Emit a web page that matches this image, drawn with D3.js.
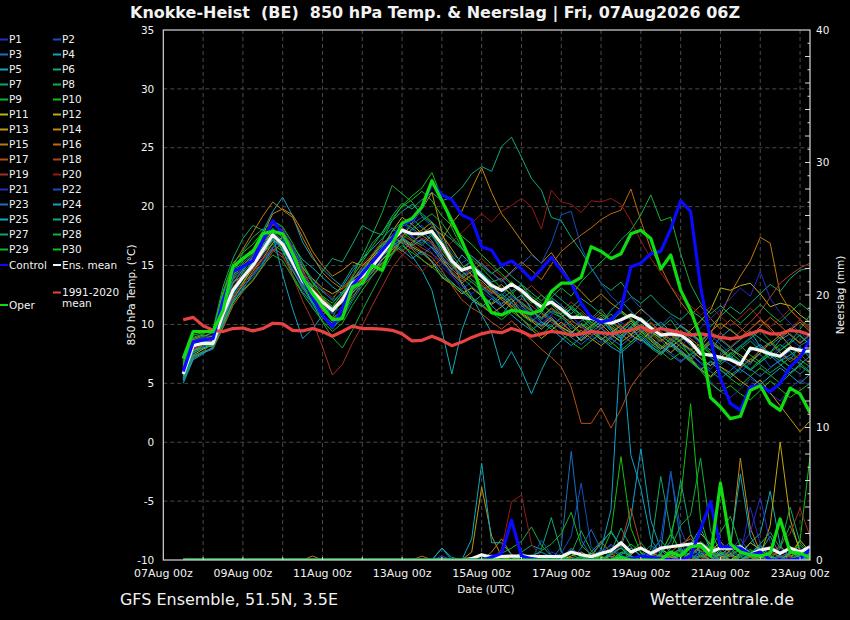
<!DOCTYPE html>
<html><head><meta charset="utf-8">
<script src="https://cdn.jsdelivr.net/npm/d3@7"></script>
<style>
body{margin:0;background:#000;}
svg{display:block;background:#000;}
text{font-family:"DejaVu Sans",sans-serif;fill:#f2f2f2;}
</style>
</head><body>
<svg id="chart" width="850" height="620"></svg>
<script>
// ---------------- DATA ----------------
const titleText = "Knokke-Heist  (BE)  850 hPa Temp. & Neerslag | Fri, 07Aug2026 06Z";
const footerLeft = "GFS Ensemble, 51.5N, 3.5E";
const footerRight = "Wetterzentrale.de";
const xTickLabels = ["07Aug 00z","09Aug 00z","11Aug 00z","13Aug 00z","15Aug 00z","17Aug 00z","19Aug 00z","21Aug 00z","23Aug 00z"];
const tempTicks = [35,30,25,20,15,10,5,0,-5,-10];
const precipTicks = [40,30,20,10,0];

// 850 hPa temperature, every 6 h from 07Aug 12z
const controlT = [6.0,8.5,8.7,8.8,12.0,14.5,14.9,15.4,17.1,18.8,17.7,15.8,13.9,12.3,10.8,9.8,
11.4,13.3,14.3,15.3,16.3,17.3,18.5,18.8,20.0,22.0,21.0,20.6,19.3,18.9,16.6,16.3,
15.0,15.4,14.7,13.8,14.7,15.7,14.6,13.5,11.8,10.6,10.2,10.4,11.3,14.9,15.2,16.0,
16.2,18.1,20.5,19.6,13.2,8.7,5.4,3.3,2.7,4.7,4.8,4.3,5.0,6.4,7.2,8.7];
const operT = [7.1,9.4,9.4,9.4,11.2,14.9,15.6,16.2,17.7,17.9,17.7,16.0,14.0,12.6,11.5,10.4,
10.5,13.2,13.5,15.0,14.6,16.8,18.6,19.0,20.0,22.2,20.5,18.8,17.1,15.2,12.6,11.0,
10.8,11.2,11.1,10.9,11.2,12.8,13.5,13.5,14.0,16.6,16.2,15.6,16.0,17.7,18.0,17.3,
14.7,15.9,12.9,11.2,8.9,3.8,3.0,2.0,2.2,4.4,4.8,3.3,2.7,4.6,4.1,2.5];
const meanT = [5.8,8.2,8.4,8.4,10.9,12.9,14.0,15.0,16.3,17.6,16.8,15.3,13.7,12.8,11.9,11.2,
12.1,13.5,14.1,14.9,16.0,17.1,18.0,17.7,17.7,17.9,16.8,15.4,14.6,14.9,14.1,13.3,
12.9,13.4,12.9,12.1,11.5,11.9,11.3,10.6,10.6,10.5,10.3,10.1,10.4,10.8,10.4,9.7,
9.1,9.2,9.1,8.5,7.5,7.4,7.2,7.0,6.6,8.0,7.8,7.5,7.3,8.0,7.8,7.7];
const climT = [10.4,10.6,9.9,9.5,9.4,9.65,9.7,9.45,9.65,10.1,10.05,9.5,9.45,9.65,9.4,9.0,
9.4,9.85,9.65,9.65,9.6,9.5,9.2,8.6,8.65,9.0,8.65,8.2,8.5,8.9,9.2,9.4,
9.3,9.65,9.4,9.0,9.2,9.4,9.3,9.1,9.2,9.4,9.3,9.2,9.4,9.5,9.8,9.4,
9.65,9.5,9.3,9.1,9.2,9.1,8.9,8.8,8.9,9.2,9.5,9.2,9.2,9.5,9.4,9.1];

const P1T = [5.5,7.6,8.0,8.3,10.2,12.5,13.8,14.6,15.8,17.0,16.5,14.8,12.9,11.5,10.6,9.8,
10.9,12.6,13.5,14.2,15.4,16.7,17.5,18.1,17.2,16.8,15.3,14.2,13.0,13.6,12.8,12.2,
11.5,12.3,11.8,10.6,9.9,10.8,10.1,9.4,9.0,8.6,9.2,8.7,9.5,10.1,9.2,8.3,
7.9,8.6,7.8,7.1,6.4,5.2,4.3,3.8,4.5,5.4,4.9,4.1,3.5,4.6,5.3,4.8];
const P2T = [6.1,8.0,8.6,8.2,11.3,13.4,14.6,15.5,16.9,18.2,17.3,15.0,13.2,12.0,11.4,10.9,
12.4,13.9,14.7,15.3,16.6,17.2,18.6,18.0,18.4,17.5,16.2,15.8,14.1,14.5,13.2,12.6,
13.0,12.1,11.4,10.8,11.2,10.5,9.8,10.7,9.9,9.1,8.4,9.0,10.2,9.6,8.8,8.1,
8.7,7.6,6.9,7.5,6.8,6.2,7.1,6.6,5.9,6.8,7.5,6.4,6.9,7.8,6.5,5.9];
const P3T = [5.9,7.3,7.6,7.9,9.8,11.9,13.1,14.2,15.1,16.4,16.0,15.2,14.1,12.6,12.3,11.5,
12.0,13.2,14.0,15.3,15.9,17.6,18.1,17.4,16.9,17.8,16.0,15.1,14.8,15.3,13.9,13.1,
12.4,13.5,12.6,11.3,10.4,11.1,10.9,9.6,10.3,10.8,9.7,9.1,8.6,9.8,10.5,9.4,
8.9,9.6,8.4,7.7,7.2,6.5,7.4,8.1,7.2,6.6,7.9,8.5,7.6,7.0,8.2,8.7];
const P4T = [5.3,7.9,8.1,8.5,10.6,12.8,14.5,15.8,17.9,19.6,20.8,19.2,17.0,15.6,14.7,13.9,
13.2,14.5,15.6,16.4,17.3,18.2,17.4,16.8,17.9,17.1,15.8,14.6,15.9,15.1,14.4,13.6,
13.9,12.8,13.4,12.1,11.0,12.3,11.6,10.9,11.8,10.6,10.1,11.2,12.0,11.1,10.3,9.5,
10.2,9.4,8.6,9.3,8.5,7.8,8.9,9.6,8.8,9.4,8.1,7.6,8.7,9.2,8.4,9.1];
const P5T = [5.0,7.0,7.5,8.1,10.0,11.8,13.0,14.3,15.2,16.5,17.4,16.7,15.5,14.8,14.0,13.2,
12.6,13.7,14.9,15.6,16.8,17.5,16.9,15.8,14.6,12.9,9.5,5.8,9.5,11.8,12.5,11.6,
10.8,11.9,12.5,11.3,10.2,9.8,10.6,11.4,10.8,9.9,10.5,9.4,8.8,9.6,10.4,9.7,
9.1,8.4,9.0,8.2,7.6,8.4,7.9,7.2,6.8,7.7,8.3,7.5,6.9,7.4,8.0,7.2];
const P6T = [6.3,8.4,8.3,8.6,11.5,13.9,15.2,16.0,17.3,18.5,17.9,16.6,14.9,13.5,12.8,12.1,
13.4,14.8,15.5,16.9,17.8,19.2,20.3,19.8,20.6,21.2,20.5,20.8,21.6,22.8,23.4,23.0,
25.1,25.9,24.2,22.4,21.4,19.1,18.8,17.4,16.2,14.8,13.5,12.9,13.6,12.4,11.8,12.5,
11.6,10.9,10.4,11.2,10.6,9.8,10.7,11.5,10.9,11.8,12.6,13.4,12.8,13.9,14.6,14.8];
const P7T = [6.8,8.9,9.2,9.6,13.2,15.6,17.3,18.4,18.0,17.5,16.3,14.2,12.7,11.9,10.8,10.1,
11.3,12.8,14.4,15.9,16.7,17.4,18.3,19.0,18.2,17.6,16.4,15.1,14.0,13.2,12.5,11.8,
12.6,11.9,10.8,10.2,11.0,10.4,9.8,9.2,10.1,9.6,8.9,8.3,9.1,9.8,8.7,8.0,
7.4,8.2,7.5,6.8,6.1,6.9,6.4,5.7,6.3,7.1,6.6,5.9,6.5,7.2,6.7,6.0];
const P8T = [6.5,8.6,8.8,9.0,12.1,14.3,15.4,16.2,17.0,17.9,17.1,15.9,14.0,12.5,11.3,10.6,
12.2,14.1,15.8,17.6,19.5,21.8,21.1,20.4,19.2,18.6,17.1,15.9,14.8,15.4,14.1,13.0,
12.2,12.8,11.6,10.9,11.6,12.2,11.1,10.4,9.7,10.5,11.3,10.2,9.6,10.3,9.5,8.9,
9.7,10.4,9.2,8.5,7.9,8.7,8.0,7.3,8.1,8.8,9.5,8.6,7.8,8.4,9.1,8.3];
const P9T = [6.0,8.1,8.5,8.2,10.5,12.4,13.6,14.9,16.5,17.4,16.9,15.6,13.9,12.7,11.6,11.0,
11.9,13.3,14.6,15.9,17.1,18.8,20.1,20.9,21.6,22.9,20.7,18.2,16.5,15.6,14.8,13.9,
13.1,12.6,13.3,12.4,11.8,11.0,10.6,11.3,10.5,9.7,10.2,10.9,9.8,9.2,10.0,9.3,
8.6,9.2,8.5,7.8,8.4,7.6,6.9,7.5,8.2,7.4,6.8,7.6,8.3,7.7,7.0,6.4];
const P10T = [6.2,7.7,8.2,8.9,11.0,13.1,14.4,15.3,16.1,16.8,16.2,15.4,14.2,13.3,12.4,11.8,
12.8,13.5,14.2,15.1,16.3,17.3,17.9,17.2,16.7,17.6,16.4,15.2,14.1,13.6,12.9,13.4,
12.8,13.6,12.9,12.0,11.3,11.9,11.2,10.5,11.0,10.2,9.6,10.4,11.1,10.5,9.8,9.2,
9.8,9.1,8.5,7.2,6.1,5.0,4.3,4.8,4.1,3.6,4.4,5.2,4.5,3.8,4.4,5.0];
const P11T = [5.6,7.4,7.9,8.3,10.1,12.0,13.5,14.8,16.0,17.2,16.6,15.0,13.6,12.3,11.2,10.5,
11.2,12.7,13.6,14.4,15.5,16.3,17.2,16.6,16.1,15.3,14.0,13.4,12.6,13.1,12.4,11.7,
12.3,11.6,10.9,10.3,9.6,10.4,9.8,9.3,10.0,9.4,8.7,9.3,9.9,9.1,8.6,9.4,
8.8,8.1,8.7,9.5,10.3,11.2,13.1,12.9,13.3,13.5,12.6,11.5,11.8,11.6,10.8,10.2];
const P12T = [6.4,8.3,8.7,8.4,11.8,13.6,14.1,15.2,16.7,18.0,17.6,16.1,14.8,13.9,13.1,12.6,
13.1,13.9,14.4,15.7,16.4,17.9,19.1,18.5,17.7,18.3,17.6,16.4,15.1,14.2,13.7,12.9,
12.1,11.4,10.5,9.6,8.8,9.5,10.2,9.4,8.6,9.3,10.0,9.2,8.5,9.1,9.8,8.9,
8.2,7.6,8.4,7.9,7.1,6.5,7.2,7.9,7.4,6.8,7.6,8.4,9.1,8.2,7.5,7.9];
const P13T = [5.7,7.8,8.0,8.2,10.4,12.2,13.3,14.5,15.6,16.9,17.4,16.2,14.6,13.0,12.1,11.3,
11.8,13.0,13.8,14.6,15.2,16.0,17.4,18.6,19.8,21.2,17.8,15.6,13.4,12.1,11.6,10.9,
11.5,12.2,11.0,10.4,9.9,10.6,9.7,8.9,9.5,8.8,8.2,8.9,9.6,10.3,9.4,8.6,
7.9,8.5,7.7,7.0,6.2,5.6,6.4,5.9,5.2,4.6,5.3,4.2,3.1,2.0,0.9,1.8];
const P14T = [6.6,8.8,9.1,8.9,12.4,14.2,15.0,15.9,17.6,19.4,19.8,19.3,17.9,16.2,15.0,14.1,
14.6,15.3,15.0,15.8,16.9,17.5,18.2,17.6,18.0,18.7,17.2,18.6,19.6,21.5,23.3,21.2,
19.4,18.3,17.1,16.0,15.2,16.1,14.9,13.6,12.8,11.9,12.6,11.8,11.2,10.5,11.3,10.6,
9.8,9.2,9.9,9.3,8.6,9.4,10.1,9.5,8.9,9.6,10.4,9.7,8.8,9.5,10.2,9.4];
const P15T = [6.0,8.2,8.9,9.4,12.6,15.0,16.4,17.8,19.2,20.4,19.7,19.1,17.4,15.8,14.4,13.6,
13.0,13.8,14.5,15.2,16.1,16.8,16.2,17.0,17.6,16.9,15.6,14.3,13.5,14.2,13.3,12.7,
13.4,12.5,11.8,11.1,10.6,11.4,10.8,10.1,9.3,9.9,10.6,9.8,9.2,8.5,9.3,10.1,
9.4,8.7,9.5,8.8,8.1,9.2,10.8,12.6,14.1,15.4,17.4,16.9,12.6,11.2,10.4,9.6];
const P16T = [5.4,7.2,7.7,8.0,9.7,11.6,12.8,13.7,14.9,16.2,16.9,15.8,14.3,13.1,12.2,11.4,
12.3,13.1,13.9,14.7,15.8,16.5,17.0,16.4,15.5,14.8,15.6,14.7,13.9,14.5,15.2,14.4,
13.7,14.5,15.3,14.6,13.8,15.1,16.2,16.9,17.6,18.2,18.9,19.4,19.7,21.5,18.8,16.4,
14.9,13.2,11.9,10.8,11.6,10.5,9.6,10.4,9.7,9.0,9.8,10.6,9.9,9.1,8.4,9.2];
const P17T = [6.3,8.5,8.4,8.7,11.7,13.8,14.9,15.6,17.1,18.5,18.0,16.4,14.7,12.8,11.2,10.4,
11.1,12.4,13.3,14.1,15.0,16.1,17.3,16.8,16.2,15.7,14.6,13.3,12.1,11.4,10.9,10.2,
9.6,10.3,9.5,8.7,7.9,7.2,6.4,4.7,1.6,1.6,2.9,1.2,2.8,4.7,5.9,6.8,
7.6,8.4,7.7,6.9,7.8,8.6,7.9,7.1,6.3,7.0,7.8,8.5,7.6,6.8,7.5,6.6];
const P18T = [5.9,7.9,8.3,8.6,10.8,12.7,13.9,14.7,15.6,16.3,15.7,14.5,13.2,12.4,11.7,11.1,
12.4,13.8,14.9,15.6,16.2,16.8,17.6,17.1,16.5,16.0,15.3,14.5,13.7,14.2,13.5,12.8,
12.1,11.5,12.2,11.6,10.9,10.2,9.6,10.3,9.8,9.1,9.7,10.4,9.6,8.9,9.5,10.2,
9.3,8.6,9.2,8.5,7.8,8.5,9.3,8.6,9.4,10.2,11.1,12.3,13.5,14.2,14.8,15.2];
const P19T = [6.1,8.0,8.2,8.5,10.5,12.3,13.4,14.3,15.5,16.6,15.9,14.1,12.0,10.3,8.1,5.7,
6.6,8.4,9.9,11.6,13.2,14.8,15.9,16.6,17.3,17.0,16.1,15.0,14.2,14.9,15.6,14.8,
14.1,13.4,12.6,13.3,12.5,11.8,11.1,11.9,11.2,10.4,11.0,10.3,9.7,10.4,9.8,9.1,
8.5,9.2,8.6,7.9,8.7,9.4,8.8,8.1,8.8,9.6,10.3,9.5,8.8,9.6,10.4,9.8];
const P20T = [5.8,8.1,8.6,8.8,11.1,13.2,14.3,15.1,16.4,17.3,16.8,15.6,14.4,13.6,12.9,12.3,
13.0,14.2,15.1,16.0,17.1,16.6,16.0,15.2,14.5,15.3,16.2,17.0,17.8,18.6,19.4,18.7,
19.6,20.1,20.7,20.0,18.1,21.4,20.4,20.2,19.5,20.5,20.4,20.7,20.2,18.8,17.1,15.6,
14.4,13.2,12.3,11.6,10.8,11.5,10.7,9.9,10.6,11.4,10.5,9.8,10.5,11.3,10.4,9.6];
const P21T = [6.2,8.7,8.9,9.1,11.9,13.7,14.8,15.9,17.4,18.7,18.2,16.6,14.5,12.9,11.8,10.9,
11.5,12.9,13.7,14.8,15.7,16.9,18.0,17.5,16.8,16.1,14.9,14.1,13.3,12.6,13.2,12.5,
11.8,12.4,11.7,10.9,10.1,10.8,11.5,10.7,9.9,9.3,9.9,10.6,9.8,9.0,8.3,9.1,
9.8,8.9,8.2,8.9,9.7,10.5,11.3,12.2,13.1,12.4,14.5,12.2,11.0,10.1,9.3,8.6];
const P22T = [5.5,7.5,8.1,8.4,10.3,12.1,13.2,14.0,15.3,16.6,17.1,16.3,15.1,13.8,12.9,12.0,
12.7,13.4,14.3,15.1,16.4,17.2,17.8,18.5,19.1,18.4,17.3,16.1,15.2,15.8,15.1,14.4,
13.6,14.4,15.1,15.9,15.2,16.9,19.3,19.6,16.6,14.8,13.5,12.4,11.6,12.3,11.4,10.6,
9.9,10.7,9.8,9.1,8.4,9.1,8.3,7.5,8.2,8.9,8.0,7.3,8.0,8.8,8.1,7.4];
const P23T = [6.0,8.3,8.5,8.7,11.0,13.0,14.2,15.2,16.6,17.8,17.0,15.4,13.3,11.7,10.6,9.7,
10.5,12.0,13.3,14.5,15.6,16.4,17.1,16.5,15.9,16.6,15.7,14.9,14.1,14.7,13.9,13.1,
12.4,11.8,11.2,10.5,9.8,10.4,9.6,8.9,8.3,9.0,9.7,8.8,8.2,8.9,9.6,8.8,
8.1,7.4,6.8,7.5,6.7,6.0,5.4,6.1,6.8,6.2,5.6,6.3,7.0,6.4,5.8,6.5];
const P24T = [5.2,7.1,7.6,8.0,10.2,12.6,14.0,15.3,16.8,17.6,14.2,11.3,8.8,9.6,10.8,11.5,
12.6,13.8,14.6,15.4,16.5,17.1,16.3,15.6,16.2,15.4,14.3,13.6,12.8,12.1,11.5,12.2,
11.6,10.8,10.1,9.5,10.2,9.6,8.9,8.2,8.9,9.6,8.8,8.1,7.6,8.3,9.0,8.2,
7.5,8.3,7.6,6.9,6.2,6.8,6.1,5.5,6.2,5.6,4.9,5.6,6.3,5.7,5.0,5.8];
const P25T = [5.6,7.6,8.0,8.3,10.7,12.9,14.1,15.0,16.1,17.3,16.4,15.1,13.7,12.8,11.9,11.4,
11.9,12.9,13.6,14.8,15.9,16.6,17.3,16.7,17.2,16.5,15.4,14.4,13.6,12.4,10.8,9.3,
6.3,7.7,6.1,4.1,6.1,7.8,8.6,9.4,8.7,9.5,10.3,9.6,8.9,9.7,8.8,8.1,
7.6,8.4,7.8,7.1,7.9,7.2,6.6,7.3,6.7,6.1,6.8,7.4,6.6,5.9,6.6,7.3];
const P26T = [6.4,8.2,8.4,8.8,11.4,13.5,14.7,15.6,16.3,17.1,16.7,15.3,13.9,13.2,14.5,15.6,
15.3,16.8,18.4,17.9,17.6,18.8,19.6,20.2,19.4,18.7,17.9,17.2,16.4,15.8,15.0,14.3,
14.9,14.1,13.4,12.7,12.0,12.8,12.1,11.4,12.2,11.6,10.9,10.3,11.0,10.4,9.7,10.5,
9.8,9.1,9.9,9.2,8.5,9.3,8.7,8.0,8.7,9.4,8.8,8.2,8.9,9.7,9.0,8.3];
const P27T = [5.4,7.3,7.7,8.5,11.2,14.0,16.2,17.4,18.1,17.8,16.2,14.6,13.1,11.9,10.7,9.6,
10.8,12.2,13.6,15.2,16.5,17.9,18.7,18.2,17.5,18.1,16.8,15.5,14.5,13.8,13.1,12.4,
11.7,12.5,11.9,11.2,10.5,11.3,10.6,9.9,9.2,9.8,10.5,9.7,9.0,9.8,10.6,9.9,
9.1,8.4,9.1,8.5,7.7,8.4,7.8,7.1,7.9,8.6,7.8,7.1,7.8,8.5,9.6,10.8];
const P28T = [6.7,8.7,9.0,9.3,12.5,14.6,15.7,16.4,17.2,18.1,17.4,15.7,13.5,11.8,10.2,8.9,
8.0,9.5,11.2,12.8,14.4,15.9,17.2,18.1,18.8,19.4,18.6,17.4,16.5,15.2,14.3,13.5,
12.9,13.6,12.8,12.1,11.4,12.3,13.1,12.4,13.6,14.5,15.3,16.1,17.2,18.0,19.3,21.0,
18.8,19.1,16.0,13.4,11.8,10.9,11.6,10.8,10.1,10.9,11.7,10.9,10.2,11.0,11.8,11.1];
const P29T = [5.8,7.7,8.3,8.1,10.1,11.9,12.9,13.8,15.0,15.9,15.4,14.0,12.6,11.4,10.3,9.4,
10.1,11.6,12.9,14.1,15.2,16.0,16.7,16.1,15.5,14.9,14.1,13.5,12.9,12.3,11.7,11.0,
10.4,11.1,10.5,9.8,9.1,9.9,9.2,8.5,7.9,8.6,9.3,8.5,7.8,8.5,9.2,8.4,
7.7,7.0,7.6,6.9,6.1,5.5,6.2,5.4,4.8,5.6,6.3,5.7,5.0,5.8,6.5,5.9];
const P30T = [6.9,9.1,9.3,9.5,12.8,15.2,16.1,16.8,17.9,18.8,18.3,16.9,15.2,13.6,12.3,11.5,
12.6,14.0,15.3,16.6,17.8,19.0,20.0,20.6,21.3,20.5,19.2,18.4,17.5,16.8,15.9,15.1,
14.3,13.5,12.7,11.8,12.5,11.7,10.9,11.6,10.8,10.1,10.8,10.0,9.3,10.1,9.4,8.7,
8.0,8.8,8.1,7.4,8.2,7.5,6.8,7.6,6.9,6.2,7.0,7.7,7.1,6.4,7.2,7.9];

// 6-hourly precipitation (mm)
const controlR = [0,0,0,0,0,0,0,0,0,0, 0,0,0,0,0,0,0,0,0,0, 0,0,0,0,0,0,
0,0,0,0,0,0.2,0.5,3.0,0.3,0.1, 0,0,0,0,0,0,0,0,0.2,0.1, 0.3,0.2,0.1,0,0,0.3,2.3,4.4,1.0,1.0, 0.9,0.4,0.6,0,0,0,0.1,0.8];
const operR = [0,0,0,0,0,0,0,0,0,0, 0,0,0,0,0,0,0,0,0,0, 0,0,0,0,0,0,
0,0,0,0,0,0,0,0,0,0, 0,0,0,0,0,0,0,0,0.2,0, 0,0,0,0.6,0.3,1.0,1.1,0.3,5.8,1.2, 0.6,0.4,0.3,0.5,3.1,0.6,0.5,0.2];
const meanR = [0,0,0,0,0,0,0,0,0,0, 0,0,0,0,0,0,0,0,0,0, 0,0,0,0,0,0,
0.05,0,0,0.1,0.4,0.2,0.25,0.3,0.3,0.25, 0.25,0.25,0.25,0.6,0.4,0.25,0.5,0.7,1.3,0.6, 0.9,0.5,0.9,1.0,1.1,1.2,1.2,0.6,0.9,0.9, 1.0,0.4,0.75,0.9,0.5,0.9,0.6,1.0];

const P1R = [0,0,0,0,0,0,0,0,0,0, 0,0,0,0,0,0,0,0,0,0, 0,0,0,0,0,0,
0,0,0,0,0,0,0.2,0.4,0,0, 0,0.6,0.3,0,0,0,0.5,1.2,0.4,0, 0,0,0.8,0.3,0,0,0.6,1.5,0.4,0, 0.3,4.0,1.2,0.2,0,0.5,0.9,0.3];
const P2R = [0,0,0,0,0,0,0,0,0,0, 0,0,0,0,0,0,0,0,0,0, 0,0,0,0,0,0,
0.3,0,0,0,0,0.4,0.2,0,0,0, 0,0,0.5,1.8,5.8,1.0,0.2,0,0,0.4, 0.9,0.3,0,0,0,0.4,0.2,0,0,0.7, 1.6,0.5,0,0,0.3,0,0.2,0];
const P3R = [0,0,0,0,0,0,0,0,0,0, 0,0,0,0,0,0,0,0,0,0, 0,0,0,0,0,0,
0,0,0,0,0,0,0,0.3,0.2,0, 0,0,1.0,8.2,1.5,0.3,0,0,0.2,0, 0.4,1.1,0.6,6.7,1.3,0,0,0.3,0,0, 0,0.6,0.2,0,0,0,0.4,0];
const P4R = [0,0,0,0,0,0,0,0,0,0, 0,0,0,0,0,0,0,0,0,0, 0,0,0,0,0,0,
0.9,0.2,0,0,0,0,0,0,0.3,0, 0,0,0,0,0,0.6,1.4,2.1,1.0,3.2, 8.4,3.0,0.8,0,0.4,0.9,0.3,0,0,0, 0,0.4,1.1,0.3,0,0,0.2,0];
const P5R = [0,0,0,0,0,0,0,0,0,0, 0,0,0,0,0,0,0,0,0,0, 0,0,0,0,0,0,
0,0,0,0,0.3,0,0,0,0.5,0.2, 0,0,0.3,0,0,0,0,0.4,0.9,0.2, 0,0,0.3,0,0,0.5,1.0,0.2,0,0, 0.4,1.3,2.0,5.2,1.1,0.2,0,0.3];
const P6R = [0,0,0,0,0,0,0,0,0,0, 0,0,0,0,0,0,0,0,0,0, 0,0,0,0,0,0,
0,0,0,0,0,0,0,0,0.6,1.1, 0.8,3.2,0.6,0,0.2,0,0.3,0.9,0.2,0, 0,0.6,1.5,0.5,0,0,0.3,0.8,0.2,0, 0,0,0.6,1.8,0.4,0,0,0.2];
const P7R = [0,0,0,0,0,0,0,0,0,0, 0,0,0,0,0,0,0,0,0,0, 0,0,0,0,0,0,
0,0,0,0,0,0,0,0,0,0.4, 0.2,0,0,0.9,0.3,0,0,0.6,2.4,1.0, 0.3,0.8,6.3,2.2,0.5,0,0.4,1.3,0.5,0, 0.2,0.7,0.3,0,0.9,2.6,0.8,0.2];
const P8R = [0,0,0,0,0,0,0,0,0,0, 0,0,0,0,0,0,0,0,0,0, 0,0,0,0,0,0,
0,0,0,0,0,0,0.5,0.9,1.4,2.5, 1.1,0.3,0,0.5,2.2,0.7,0,0,0.3,0, 0,0.4,0.9,0.3,0,0,0.7,0.2,0,0.5, 1.2,0.4,0,0,0,0.6,0.2,0];
const P9R = [0,0,0,0,0,0,0,0,0,0, 0,0,0,0,0,0,0,0,0,0, 0,0,0,0,0,0,
0,0,0,0,0,0,0,0,0,0.3, 0.7,1.2,2.0,3.6,1.1,0.4,0,0,0.6,0.3, 0,0,0.5,1.9,0.8,0,0.2,0.6,0.3,0, 0,0.3,0.8,0.2,0,0,0.4,0.1];
const P10R = [0,0,0,0,0,0,0,0,0,0, 0,0,0,0,0,0,0,0,0,0, 0,0,0,0,0,0,
0,0,0,0,0,0,0,0,0,0, 0,0,0.2,0.5,0,0,0.4,2.1,7.8,2.4, 0.5,0,0,0.3,0.7,0,0,0,0.4,0.9, 0.2,0,0,0.5,0.3,0,1.5,7.8];
const P11R = [0,0,0,0,0,0,0,0,0,0, 0,0,0,0,0,0,0,0,0,0, 0,0,0,0,0,0,
0,0,0,0,0,0,0,0,0,0, 0,0,0,0.3,0.6,0.2,0,0,0,0.4, 1.0,0.5,0,0,0,0.6,2.0,1.2,0.3,0, 0.5,1.3,0.8,0.2,0,0.4,1.5,0.6];
const P12R = [0,0,0,0,0,0,0,0,0,0, 0,0,0,0,0,0,0,0,0,0, 0,0,0,0,0,0,
0,0,0,0,0.4,0.2,0,0,0,0, 0,0.3,0,0,0,0.5,0.2,0,0,0, 0,0.3,0.8,0.4,0,0,0,0.6,1.4,0.5, 0,0,0.4,2.6,8.9,3.1,0.6,0.2];
const P13R = [0,0,0,0,0,0,0,0,0,0, 0,0,0,0,0,0,0,0,0,0, 0,0,0,0,0,0,
0,0,0,0.6,5.5,1.8,0.3,0,0,0, 0,0,0,0,0,0,0,0.3,0,0, 0,0,0.4,0.2,0,0,0,0,0.5,0.3, 0,0,0.2,0,0,0,0.3,0.1];
const P14R = [0,0,0,0,0,0,0,0,0,0, 0,0,0,0,0,0,0,0,0,0, 0,0,0,0,0,0,
0,0,0,0,0,0,0,0,0,0, 0,0,0,0.2,0,0,0,0,0,0, 0,0.5,0.3,0,0,0.4,1.0,0.5,0,0.8, 7.7,2.4,0.6,0,0,0.3,0.5,0.2];
const P15R = [0,0,0,0,0,0,0,0,0,0, 0,0,0,0.3,0,0,0,0,0,0, 0,0,0,0,0,0,
0,0,0,0,0,0.6,1.6,0.4,0,0, 0,0,0,0,0,0,0,0,0,0, 0,0,0,0.3,0.9,1.9,0.6,0,0,0.4, 0.9,0.3,0,0,0,0,0.2,0.4];
const P16R = [0,0,0,0,0,0,0,0,0,0, 0,0,0,0,0,0,0,0,0,0, 0,0,0,0,0.3,0,
0,0,0,0,0,0,0,0,0,0, 0,0,0,0,0,0.2,1.4,0.5,0,0, 0,0,0,0.6,1.2,1.6,0.9,0.3,0,0, 0,0.2,0,0.5,1.0,0.3,0,0];
const P17R = [0,0,0,0,0,0,0,0,0,0, 0,0,0,0,0,0,0,0,0,0, 0,0,0,0,0,0,
0,0,0,0,0,0,0,0.2,0,0, 0,0,0,0,0,0,0,0,0,0, 0,0,0,0,0,0.4,1.1,0.6,0,0, 0,0,0.3,0.7,0.2,0,0,0];
const P18R = [0,0,0,0,0,0,0,0,0,0, 0,0,0,0,0,0,0,0,0,0, 0,0,0,0,0,0,
0,0,0,0,0,0,0,0,0,0, 0,0,0,0,0,0,0,0,1.2,3.9, 1.0,0.2,0,0,0,0,0,0.5,0.9,0.3, 0,0,0,0.3,0.6,0.2,0,0];
const P19R = [0,0,0,0,0,0,0,0,0,0, 0,0,0,0,0,0,0,0,0,0, 0,0,0,0,0,0,
0,0,0,0,0,0,0,0,0,0, 0,0,0,0,0,0,0,0,0,0, 0,0,0,0,0,0,0,0.3,0.2,0, 0,0,0,0.4,1.2,2.0,3.9,1.8];
const P20R = [0,0,0,0,0,0,0,0,0,0, 0,0,0,0,0,0,0,0,0,0, 0,0,0,0,0,0,
0,0,0,0,0,0,0.8,4.4,4.9,1.2, 0.2,0,0,0,0,0,0,0,0,0, 0,0,0,0,0,0,0.2,0,0,0, 0,0,0,0,0,0,0.4,0.2];
const P21R = [0,0,0,0,0,0,0,0,0,0, 0,0,0,0,0,0,0,0,0,0, 0,0,0,0,0,0,
0,0,0,0,0,0,0,0,0,0, 0,0,0.3,0.8,0.4,0,0,0,0,0, 0.3,0.5,0,0,0,0.2,0.6,0.4,0,0.3, 0.9,2.1,4.7,1.3,0.4,0,0.3,0.9];
const P22R = [0,0,0,0,0,0,0,0,0,0, 0,0,0,0,0,0,0,0,0,0, 0,0,0,0,0,0,
0,0,0,0,0,0,0,0,0,0, 1.5,0.4,0,0,0,0,0.6,1.1,0.3,0, 0,0.4,1.6,6.7,2.3,0.5,0,0,0.3,0.6, 0.2,0,0,0.5,0.9,0.2,0,0.3];
const P23R = [0,0,0,0,0,0,0,0,0,0, 0,0,0,0,0,0,0,0,0,0, 0,0,0,0,0,0,
0,0,0,0,0,0,0,0,0,0, 0,0,0,0,0.9,2.3,0.8,0.2,0,0, 0,0,0,0.4,0.9,0.3,0,0,0.6,1.4, 0.5,0,0,0,0.2,0.6,0.3,0];
const P24R = [0,0,0,0,0,0,0,0,0,0, 0,0,0,0,0,0,0,0,0,0, 0,0,0,0,0,0,
0,0,0,0,0,0,0,0,0,0.3, 0.6,0.2,0,0,0,0,0.8,3.8,16.8,7.9, 5.4,1.6,0.4,0,0,0.3,0.9,0.5,0,0, 0,0.4,1.0,0.3,0,0,0,0.5];
const P25R = [0,0,0,0,0,0,0,0,0,0, 0,0,0,0,0,0,0,0,0,0, 0,0,0,0,0,0,
0.9,0,0,1.6,7.3,1.3,1.3,0.4,0,0, 0,0,0,0,0,0,0,0,0.4,0.9, 0.3,0,0,0,0.5,1.2,2.4,0.8,0.3,1.1, 6.5,1.8,0.4,0,0,0.6,0.2,0];
const P26R = [0,0,0,0,0,0,0,0,0,0, 0,0,0,0,0,0,0,0,0,0, 0,0,0,0,0,0,
0,0,0,0,0,0,0,0,0,0, 0,0,0,0,0,0.4,1.2,2.2,1.0,0.3, 0,0,0.5,1.4,6.0,2.0,0.4,0,0,0.3, 0.8,0.3,0,0,0.4,1.0,0.3,0];
const P27R = [0,0,0,0,0,0,0,0,0,0, 0,0,0,0,0,0,0,0,0,0, 0,0,0,0,0,0,
0,0,0,0,0,0,0,0,0,0, 0,0,0,0,0.3,0,0,0.5,0.9,0.2, 0,0,0,0.4,0.8,0.3,0,0,0.6,0.4, 0,0.5,1.2,2.1,0.9,4.0,1.3,0.5];
const P28R = [0,0,0,0,0,0,0,0,0,0, 0,0,0,0,0,0,0,0,0,0, 0,0,0,0,0,0,
0,0,0,0,0,0,0,0,0,0, 0,0,0.2,0,0,0,0,0,0,0.6, 1.3,0.4,0,0.9,2.6,3.4,7.7,2.2,0.6,0, 0,0.3,0.8,0.2,0,0,0.4,0.9];
const P29R = [0,0,0,0,0,0,0,0,0,0, 0,0,0,0,0,0,0,0,0,0, 0,0,0,0,0,0,
0,0,0,0,0,0,0,0,0,0, 0,0,0,0.6,0.3,0,0,0,0,0, 0,0,0,0,0,0.5,1.4,0.8,2.1,3.3, 1.0,0.3,0,0,0,0,0.6,0.3];
const P30R = [0,0,0,0,0,0,0,0,0,0, 0,0,0,0,0,0,0,0,0,0, 0,0,0,0,0,0,
0,0,0,0,0,0,0,0,0,0, 0,0,0,0,0,0,0.3,0,0.5,1.2, 0.6,0,0.4,2.0,4.6,11.8,3.1,0.7,0,0, 0.3,0.8,0.3,0,0,0.5,1.1,0.4];

const memberNames = ["P1","P2","P3","P4","P5","P6","P7","P8","P9","P10","P11","P12","P13","P14","P15",
"P16","P17","P18","P19","P20","P21","P22","P23","P24","P25","P26","P27","P28","P29","P30"];
const memberTemps = [P1T,P2T,P3T,P4T,P5T,P6T,P7T,P8T,P9T,P10T,P11T,P12T,P13T,P14T,P15T,
P16T,P17T,P18T,P19T,P20T,P21T,P22T,P23T,P24T,P25T,P26T,P27T,P28T,P29T,P30T];
const memberPrecip = [P1R,P2R,P3R,P4R,P5R,P6R,P7R,P8R,P9R,P10R,P11R,P12R,P13R,P14R,P15R,
P16R,P17R,P18R,P19R,P20R,P21R,P22R,P23R,P24R,P25R,P26R,P27R,P28R,P29R,P30R];

// ---------------- STYLE ----------------
const palette = ["#2a2ac0","#1050c0","#1870c0","#10a0c8","#10a8b8","#10a880","#10a860","#10b040","#10b820","#10c010",
"#b8b810","#c0a810","#c09810","#c08810","#c07810","#c06810","#b85010","#b04020","#a83020","#981818"];
const C_CONTROL = "#0a0aff", C_OPER = "#10dd10", C_MEAN = "#f4f4f4", C_CLIM = "#e84242";

const M = {left:163.3, right:810, top:30, bottom:560};
const svg = d3.select("#chart");

const x = d3.scaleUtc()
  .domain([new Date(Date.UTC(2026,7,7,0)), new Date(Date.UTC(2026,7,23,6))])
  .range([M.left, M.right]);
const yT = d3.scaleLinear().domain([-10,35]).range([M.bottom, M.top]);
const yP = d3.scaleLinear().domain([0,40]).range([M.bottom, M.top]);

const t0 = Date.UTC(2026,7,7,12);
const times = meanT.map((_,i) => new Date(t0 + i*6*3600*1000));

svg.append("defs").append("clipPath").attr("id","clip")
  .append("rect").attr("x",M.left).attr("y",M.top)
  .attr("width",M.right-M.left).attr("height",M.bottom-M.top);

// grid
const grid = svg.append("g");
const days = d3.utcDay.range(new Date(Date.UTC(2026,7,8)), new Date(Date.UTC(2026,7,23,1)));
grid.selectAll("line.v").data(days).join("line")
  .attr("x1",d=>x(d)).attr("x2",d=>x(d)).attr("y1",M.top).attr("y2",M.bottom)
  .attr("stroke","#4a4a4a").attr("stroke-dasharray","4,3").attr("stroke-width",1);
grid.selectAll("line.h").data(tempTicks.filter(v=>v>-10 && v<35)).join("line")
  .attr("x1",M.left).attr("x2",M.right).attr("y1",d=>yT(d)).attr("y2",d=>yT(d))
  .attr("stroke","#4a4a4a").attr("stroke-dasharray","4,3").attr("stroke-width",1);

// lines
const plot = svg.append("g").attr("clip-path","url(#clip)");
const lineT = d3.line().x((d,i)=>x(times[i])).y(d=>yT(d));
const lineP = d3.line().x((d,i)=>x(times[i])).y(d=>yP(d));

memberTemps.forEach((s,k)=>{
  plot.append("path").attr("d",lineT(s)).attr("fill","none")
    .attr("stroke",palette[k%20]).attr("stroke-width",1);
});
memberPrecip.forEach((s,k)=>{
  plot.append("path").attr("d",lineP(s)).attr("fill","none")
    .attr("stroke",palette[k%20]).attr("stroke-width",1);
});
plot.append("path").attr("d",lineT(meanT)).attr("fill","none").attr("stroke",C_MEAN).attr("stroke-width",3.2).attr("stroke-linejoin","round");
plot.append("path").attr("d",lineT(climT)).attr("fill","none").attr("stroke",C_CLIM).attr("stroke-width",3.2).attr("stroke-linejoin","round");
plot.append("path").attr("d",lineT(controlT)).attr("fill","none").attr("stroke",C_CONTROL).attr("stroke-width",3.2).attr("stroke-linejoin","round");
plot.append("path").attr("d",lineT(operT)).attr("fill","none").attr("stroke",C_OPER).attr("stroke-width",3.2).attr("stroke-linejoin","round");
plot.append("path").attr("d",lineP(meanR)).attr("fill","none").attr("stroke",C_MEAN).attr("stroke-width",3.2).attr("stroke-linejoin","round");
plot.append("path").attr("d",lineP(controlR)).attr("fill","none").attr("stroke",C_CONTROL).attr("stroke-width",3.2).attr("stroke-linejoin","round");
plot.append("path").attr("d",lineP(operR)).attr("fill","none").attr("stroke",C_OPER).attr("stroke-width",3.2).attr("stroke-linejoin","round");

// frame
svg.append("rect").attr("x",M.left).attr("y",M.top).attr("width",M.right-M.left).attr("height",M.bottom-M.top)
  .attr("fill","none").attr("stroke","#d8d8d8").attr("stroke-width",1.2);

// left axis labels
svg.selectAll("text.yl").data(tempTicks).join("text")
  .attr("x",M.left-9).attr("y",d=>yT(d)).attr("dy","0.35em")
  .attr("text-anchor","end").attr("font-size",10.5).text(d=>d);

// right axis ticks & labels
const mmTicks = d3.range(1,40);
svg.selectAll("line.rt").data(mmTicks).join("line")
  .attr("x1",d=>M.right-(d%2===0?5:2.5)).attr("x2",M.right)
  .attr("y1",d=>yP(d)).attr("y2",d=>yP(d)).attr("stroke","#d8d8d8").attr("stroke-width",1);
svg.selectAll("text.yr").data(precipTicks).join("text")
  .attr("x",M.right+6).attr("y",d=>yP(d)).attr("dy","0.35em")
  .attr("text-anchor","start").attr("font-size",10.5).text(d=>d);

// bottom ticks & labels
svg.selectAll("line.bt").data(days).join("line")
  .attr("x1",d=>x(d)).attr("x2",d=>x(d)).attr("y1",M.bottom).attr("y2",M.bottom-3)
  .attr("stroke","#d8d8d8").attr("stroke-width",1);
const labelDates = xTickLabels.map((_,k)=>new Date(Date.UTC(2026,7,7+2*k)));
svg.selectAll("text.xl").data(xTickLabels).join("text")
  .attr("x",(d,k)=>x(labelDates[k])).attr("y",577)
  .attr("text-anchor","middle").attr("font-size",11).text(d=>d);

// axis titles
svg.append("text").attr("transform","translate(135,295) rotate(-90)")
  .attr("text-anchor","middle").attr("font-size",10.5).text("850 hPa Temp. (°C)");
svg.append("text").attr("transform","translate(844,295) rotate(-90)")
  .attr("text-anchor","middle").attr("font-size",10.5).text("Neerslag (mm)");
svg.append("text").attr("x",486).attr("y",593).attr("text-anchor","middle")
  .attr("font-size",10.5).text("Date (UTC)");

// title and footer
svg.append("text").attr("x",130).attr("y",18).attr("font-size",15.5).attr("font-weight","bold")
  .attr("xml:space","preserve").style("white-space","pre")
  .attr("textLength",610).attr("lengthAdjust","spacingAndGlyphs").text(titleText);
svg.append("text").attr("x",120).attr("y",605).attr("font-size",16)
  .attr("textLength",218).attr("lengthAdjust","spacingAndGlyphs").text(footerLeft);
svg.append("text").attr("x",650).attr("y",605).attr("font-size",16)
  .attr("textLength",144).attr("lengthAdjust","spacingAndGlyphs").text(footerRight);

// legend
const leg = svg.append("g");
memberNames.forEach((n,k)=>{
  const col = k%2, row = Math.floor(k/2);
  const lx = col===0 ? 0 : 53, ly = 39.5 + row*15;
  leg.append("line").attr("x1",lx).attr("x2",lx+8).attr("y1",ly).attr("y2",ly)
    .attr("stroke",palette[k%20]).attr("stroke-width",2);
  leg.append("text").attr("x",lx+9).attr("y",ly).attr("dy","0.36em").attr("font-size",10.5).text(n);
});
const extra = [
  {name:"Control", color:C_CONTROL, lx:0, ly:265},
  {name:"Ens. mean", color:C_MEAN, lx:53, ly:265},
  {name:"Oper", color:C_OPER, lx:0, ly:305},
  {name:"1991-2020", color:C_CLIM, lx:53, ly:292.5}
];
extra.forEach(e=>{
  leg.append("line").attr("x1",e.lx).attr("x2",e.lx+8).attr("y1",e.ly).attr("y2",e.ly)
    .attr("stroke",e.color).attr("stroke-width",2);
  leg.append("text").attr("x",e.lx+9).attr("y",e.ly).attr("dy","0.36em").attr("font-size",10.5).text(e.name);
});
leg.append("text").attr("x",62).attr("y",303.5).attr("dy","0.36em").attr("font-size",10.5).text("mean");
</script>
</body></html>
